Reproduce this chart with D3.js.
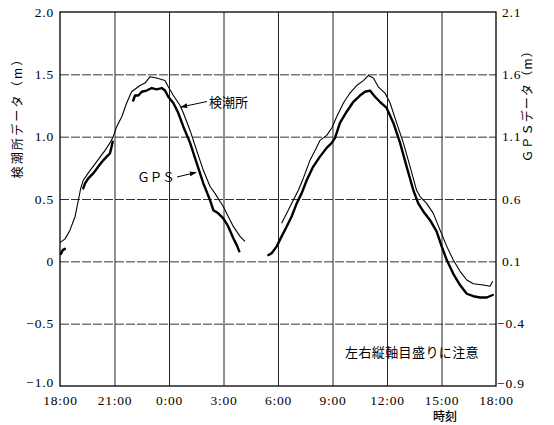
<!DOCTYPE html>
<html><head><meta charset="utf-8">
<script src="https://cdn.jsdelivr.net/npm/d3@7"></script>
<style>
html,body{margin:0;padding:0;background:#fff;}
svg{display:block;}
</style></head>
<body>
<svg id="chart" width="554" height="425"></svg>
<script>
// ---- data ----
// hours after 18:00 (start of record); null = gap in record
const tideHours = [0,0.28,0.55,0.83,1.01,1.14,1.28,1.56,2.02,2.48,2.75,2.93,3.12,3.40,3.67,3.94,4.22,4.40,4.68,4.95,5.32,5.78,5.96,6.24,6.61,6.79,7.16,7.52,7.89,8.26,8.53,8.81,8.99,9.17,9.54,9.91,10.18,
  null,
  12.20,12.48,12.84,13.12,13.39,13.76,14.04,14.31,14.68,14.96,15.23,15.60,15.96,16.33,16.70,16.97,17.25,17.52,17.89,18.17,18.53,18.90,19.27,19.63,19.82,20.18,20.55,20.92,21.29,21.65,22.02,22.39,22.75,23.30,23.67,23.82];
const tideLevel = [0.15,0.18,0.25,0.36,0.49,0.585,0.65,0.71,0.80,0.89,0.95,1.00,1.08,1.16,1.27,1.36,1.39,1.41,1.43,1.48,1.47,1.45,1.40,1.33,1.25,1.19,1.05,0.89,0.73,0.60,0.545,0.48,0.44,0.385,0.28,0.20,0.16,
  null,
  0.305,0.385,0.49,0.57,0.665,0.81,0.89,0.97,1.01,1.07,1.16,1.27,1.35,1.41,1.45,1.49,1.47,1.40,1.35,1.27,1.11,0.95,0.76,0.57,0.52,0.465,0.385,0.25,0.12,0.01,-0.08,-0.15,-0.18,-0.19,-0.20,-0.16];

const gpsHours = [0.05,0.15,0.27,
  null,
  1.28,1.38,1.56,1.83,2.11,2.38,2.57,2.75,2.84,2.90,
  null,
  4.03,4.13,4.31,4.50,4.77,5.05,5.32,5.60,5.78,5.96,6.24,6.51,6.79,7.16,7.52,7.89,8.26,8.44,8.71,8.99,9.26,9.54,9.73,9.87,
  null,
  11.47,11.65,11.93,12.20,12.48,12.75,13.03,13.30,13.58,13.94,14.31,14.68,14.96,15.14,15.41,15.78,16.15,16.51,16.79,17.06,17.34,17.61,17.98,18.35,18.72,19.08,19.45,19.72,20.00,20.37,20.73,21.01,21.29,21.65,22.02,22.39,22.75,23.12,23.49,23.82];
const gpsLevel = [0.16,0.19,0.20,
  null,
  0.685,0.725,0.765,0.805,0.86,0.91,0.94,0.965,1.02,1.06,
  null,
  1.39,1.43,1.43,1.46,1.47,1.49,1.48,1.49,1.47,1.42,1.37,1.29,1.18,1.05,0.89,0.725,0.59,0.51,0.485,0.445,0.38,0.285,0.23,0.18,
  null,
  0.15,0.165,0.22,0.30,0.38,0.46,0.565,0.645,0.75,0.86,0.94,1.01,1.05,1.09,1.21,1.30,1.38,1.43,1.46,1.47,1.42,1.38,1.33,1.21,1.05,0.86,0.67,0.565,0.50,0.43,0.34,0.22,0.11,0.00,-0.09,-0.16,-0.18,-0.19,-0.19,-0.17];

const timeTicks = [0,3,6,9,12,15,18,21,24];
const timeLabels = ["18:00","21:00","0:00","3:00","6:00","9:00","12:00","15:00","18:00"];
const leftTicks = [-1,-0.5,0,0.5,1,1.5,2];
const leftLabels = ["\u22121.0","\u22120.5","0","0.5","1.0","1.5","2.0"];
const rightTicks = [-0.9,-0.4,0.1,0.6,1.1,1.6,2.1];
const rightLabels = ["\u22120.9","\u22120.4","0.1","0.6","1.1","1.6","2.1"];

const leftTitle = "検潮所データ（m）";
const rightTitle = "ＧＰＳデータ（m）";
const xTitle = "時刻";
const tideName = "検潮所";
const gpsName = "ＧＰＳ";
const note = "左右縦軸目盛りに注意";

// ---- layout ----
const L = 60, R = 496, T = 12, B = 386;
const svg = d3.select("#chart");
const x = d3.scaleLinear().domain([0,24]).range([L,R]);
const yL = d3.scaleLinear().domain([-1,2]).range([B,T]);
const yR = d3.scaleLinear().domain([-0.9,2.1]).range([B,T]);

const serif = "'Liberation Serif','DejaVu Serif',serif";
const cjk = "'Noto Sans CJK JP','Noto Sans',sans-serif";

// grid
const gGrid = svg.append("g");
gGrid.append("g").attr("transform",`translate(0,${B})`)
  .call(d3.axisBottom(x).tickValues(timeTicks.slice(1,-1)).tickSize(-(B-T)).tickFormat(""))
  .call(g=>{g.select(".domain").remove(); g.selectAll("line").attr("stroke","#222").attr("stroke-width",1);});
gGrid.append("g").attr("transform",`translate(${L},0)`)
  .call(d3.axisLeft(yL).tickValues(leftTicks.slice(1,-1)).tickSize(-(R-L)).tickFormat(""))
  .call(g=>{g.select(".domain").remove(); g.selectAll("line").attr("stroke","#333").attr("stroke-width",1).attr("stroke-dasharray","9,2");});

// frame
svg.append("rect").attr("x",L).attr("y",T).attr("width",R-L).attr("height",B-T)
  .attr("fill","none").attr("stroke","#000").attr("stroke-width",1.3);

// axes labels
const ax = svg.append("g").attr("transform",`translate(${L},0)`)
  .call(d3.axisLeft(yL).tickValues(leftTicks).tickSize(0).tickPadding(6).tickFormat((d,i)=>leftLabels[i]));
ax.select(".domain").remove();
ax.selectAll("text").attr("font-family",serif).attr("font-size",13.5).attr("letter-spacing",0.8).attr("fill","#000")
  .attr("y",(d)=> d===-1 ? -4 : 0);

const axR = svg.append("g").attr("transform",`translate(${R},0)`)
  .call(d3.axisRight(yR).tickValues(rightTicks).tickSize(0).tickPadding(6).tickFormat((d,i)=>rightLabels[i]));
axR.select(".domain").remove();
axR.selectAll("text").attr("font-family",serif).attr("font-size",13.5).attr("letter-spacing",0.8).attr("fill","#000")
  .attr("dx",(d)=> d<0 ? -5 : 0).attr("y",(d)=> d===-0.9 ? -3 : 0);

const axB = svg.append("g").attr("transform",`translate(0,${B})`)
  .call(d3.axisBottom(x).tickValues(timeTicks).tickSize(0).tickPadding(9).tickFormat((d,i)=>timeLabels[i]));
axB.select(".domain").remove();
axB.selectAll("text").attr("font-family",serif).attr("font-size",13.5).attr("letter-spacing",0.8).attr("fill","#000");

// titles
svg.append("text").attr("transform","translate(22,115) rotate(-90)")
  .attr("text-anchor","middle").attr("font-family",cjk).attr("font-size",12).attr("letter-spacing",2.2)
  .text(leftTitle);
svg.append("text").attr("transform","translate(532,103) rotate(-90)")
  .attr("text-anchor","middle").attr("font-family",cjk).attr("font-size",12).attr("letter-spacing",1.2)
  .text(rightTitle);
svg.append("text").attr("x",445).attr("y",421).attr("text-anchor","middle")
  .attr("font-family",cjk).attr("font-size",12).attr("font-weight",500).text(xTitle);

// lines
const tideData = tideHours.map((h,i)=>({h, v: tideLevel[i]}));
const gpsData = gpsHours.map((h,i)=>({h, v: gpsLevel[i]}));
const lineL = d3.line().defined(d=>d.h!==null && d.v!==null).x(d=>x(d.h)).y(d=>yL(d.v));
const lineR = d3.line().defined(d=>d.h!==null && d.v!==null).x(d=>x(d.h)).y(d=>yR(d.v));

svg.append("path").datum(tideData).attr("d",lineL).attr("fill","none")
  .attr("stroke","#000").attr("stroke-width",1.1).attr("stroke-linejoin","round");
svg.append("path").datum(gpsData).attr("d",lineR).attr("fill","none")
  .attr("stroke","#000").attr("stroke-width",2.4).attr("stroke-linejoin","round").attr("stroke-linecap","round");

// annotations
const defs = svg.append("defs");
defs.append("marker").attr("id","arr").attr("viewBox","0 0 10 10").attr("refX",9).attr("refY",5)
  .attr("markerWidth",7).attr("markerHeight",7).attr("orient","auto-start-reverse")
  .append("path").attr("d","M0,1.5 L10,5 L0,8.5 Z").attr("fill","#000");

svg.append("line").attr("x1",207).attr("y1",101.5).attr("x2",181).attr("y2",107)
  .attr("stroke","#000").attr("stroke-width",1).attr("marker-end","url(#arr)");
svg.append("text").attr("x",209).attr("y",107).attr("font-family",cjk).attr("font-size",13).text(tideName);

svg.append("line").attr("x1",177).attr("y1",177).attr("x2",196).attr("y2",172.5)
  .attr("stroke","#000").attr("stroke-width",1).attr("marker-end","url(#arr)");
svg.append("text").attr("x",156).attr("y",181.5).attr("text-anchor","middle").attr("font-family",cjk).attr("font-size",12.5).text(gpsName);

svg.append("text").attr("x",412).attr("y",357).attr("text-anchor","middle")
  .attr("font-family",cjk).attr("font-size",13).attr("letter-spacing",0.4).text(note);
</script>
</body></html>
